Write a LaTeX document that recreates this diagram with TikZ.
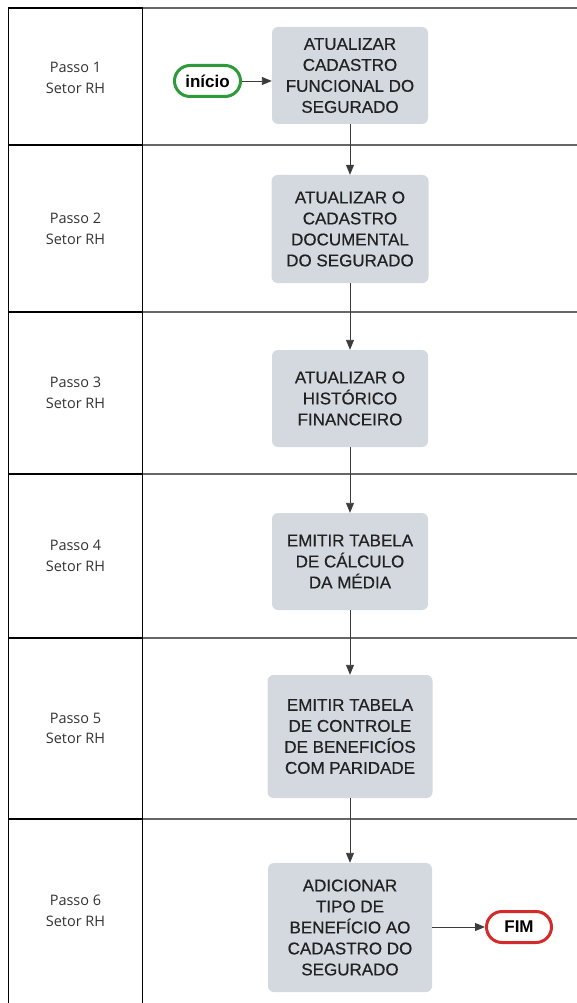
\documentclass[tikz,border=0pt]{standalone}
\usepackage{fontspec}
\setmainfont{Liberation Sans}
\newfontfamily\labelfont{Open Sans}
\newfontfamily\boxfont{Liberation Sans}[FakeBold=0.5]
\usetikzlibrary{arrows.meta}
\definecolor{boxfill}{HTML}{D4D9E0}
\definecolor{boxtext}{HTML}{222222}
\definecolor{gridgray}{HTML}{666666}
\definecolor{startgreen}{HTML}{2E9A3A}
\definecolor{endred}{HTML}{D42A2A}
\definecolor{arrowgray}{HTML}{3C3C3C}
\tikzset{
  procbox/.style={fill=boxfill, rounded corners=6pt, inner sep=0pt, align=center,
    text=boxtext, font=\boxfont\fontsize{17}{21}\selectfont},
  lanelabel/.style={align=center, text=black!80, font=\labelfont\fontsize{14.5}{20.5}\selectfont},
  pill/.style={rounded corners=15.5pt, line width=3pt, inner sep=0pt,
    minimum height=31pt, font=\bfseries\fontsize{17}{20}\selectfont},
  flow/.style={draw=arrowgray, line width=0.9pt, -{Triangle[length=10pt,width=8pt]}},
  laneblack/.style={draw=black, line width=1.8pt},
  lanegray/.style={draw=gridgray, line width=1.3pt}
}
\begin{document}
\begin{tikzpicture}[x=1pt,y=-1pt]
\useasboundingbox (0,0) rectangle (577,1003);
% grid lines, right part
\foreach \yy in {8,145,312,474,638,819} {
  \draw[lanegray] (142.5,\yy) -- (577,\yy);
}
% grid lines, left column
\foreach \yy in {8,145,312,474,638,819} {
  \draw[laneblack] (8.5,\yy) -- (142.5,\yy);
}
\draw[laneblack] (8.5,7.1) -- (8.5,1003);
\draw[laneblack] (142.5,7.1) -- (142.5,1003);
% lane labels
\node[lanelabel] (l1) at (75.5,78) {Passo 1\\Setor RH};
\node[lanelabel] (l2) at (75.5,229) {Passo 2\\Setor RH};
\node[lanelabel] (l3) at (75.5,393) {Passo 3\\Setor RH};
\node[lanelabel] (l4) at (75.5,556) {Passo 4\\Setor RH};
\node[lanelabel] (l5) at (75.5,728.5) {Passo 5\\Setor RH};
\node[lanelabel] (l6) at (75.5,911) {Passo 6\\Setor RH};
% process boxes
\node[procbox, minimum width=156pt, minimum height=97pt] (b1) at (350,75.5)
  {ATUALIZAR\\CADASTRO\\FUNCIONAL DO\\SEGURADO};
\node[procbox, minimum width=157pt, minimum height=108pt] (b2) at (350,229)
  {ATUALIZAR O\\CADASTRO\\DOCUMENTAL\\DO SEGURADO};
\node[procbox, minimum width=156pt, minimum height=97pt] (b3) at (350,398.5)
  {ATUALIZAR O\\HISTÓRICO\\FINANCEIRO};
\node[procbox, minimum width=156pt, minimum height=97pt] (b4) at (350,561.5)
  {EMITIR TABELA\\DE CÁLCULO\\DA MÉDIA};
\node[procbox, minimum width=165pt, minimum height=123pt] (b5) at (350,736.5)
  {EMITIR TABELA\\DE CONTROLE\\DE BENEFICÍOS\\COM PARIDADE};
\node[procbox, minimum width=164pt, minimum height=129pt] (b6) at (350,927.5)
  {ADICIONAR\\TIPO DE\\BENEFÍCIO AO\\CADASTRO DO\\SEGURADO};
% terminators
\node[pill, draw=startgreen, minimum width=66pt] (start) at (207.5,81) {início};
\node[pill, draw=endred, minimum width=65pt] (fim) at (519,927) {FIM};
% connectors
\draw[flow] (start) -- (start -| b1.west);
\draw[flow] (b1) -- (b2);
\draw[flow] (b2) -- (b3);
\draw[flow] (b3) -- (b4);
\draw[flow] (b4) -- (b5);
\draw[flow] (b5) -- (b6);
\draw[flow] (b6.east |- fim) -- (fim);
\end{tikzpicture}
\end{document}
